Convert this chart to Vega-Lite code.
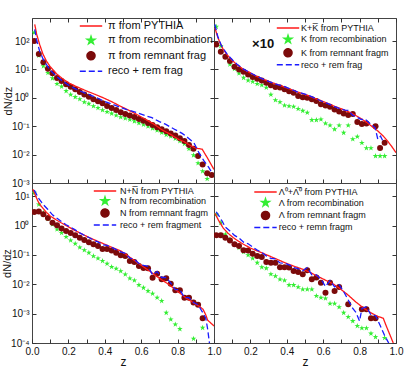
{
"$schema": "https://vega.github.io/schema/vega-lite/v6.json",
"background": "white",
"padding": {"left": 1, "top": 17, "right": 5, "bottom": 0},
"bounds": "flush",
"spacing": 0,
"columns": 2,
"config": {
  "view": {"stroke": "#444", "strokeWidth": 1},
  "font": "Liberation Sans",
  "axis": {"tickSize": -4, "tickColor": "#333", "tickWidth": 1, "domain": false, "grid": false, "labelFontSize": 10, "labelColor": "#111", "titleFontSize": 12, "titleFontWeight": "normal", "titleColor": "#111", "labelPadding": 7, "labelFlush": false, "labelFont": "Liberation Sans", "titleFont": "Liberation Sans"},
  "axisX": {"titlePadding": 0},
  "axisY": {"titlePadding": -2, "titleFontSize": 11},
  "legend": {"labelFont": "Liberation Sans", "labelColor": "#111"}
},
"data": {"name": "d"},
"datasets": {"d": [
{"p":"pi","s":"reco","z":0.0125,"v":200},{"p":"pi","s":"reco","z":0.0375,"v":31},{"p":"pi","s":"reco","z":0.0625,"v":13},{"p":"pi","s":"reco","z":0.0875,"v":7.6},{"p":"pi","s":"reco","z":0.1125,"v":4.9},{"p":"pi","s":"reco","z":0.1375,"v":3.1},{"p":"pi","s":"reco","z":0.1625,"v":2.5},{"p":"pi","s":"reco","z":0.1875,"v":1.74},{"p":"pi","s":"reco","z":0.2125,"v":1.3},{"p":"pi","s":"reco","z":0.2375,"v":1.07},{"p":"pi","s":"reco","z":0.2625,"v":0.9},{"p":"pi","s":"reco","z":0.2875,"v":0.71},{"p":"pi","s":"reco","z":0.3125,"v":0.62},{"p":"pi","s":"reco","z":0.3375,"v":0.51},{"p":"pi","s":"reco","z":0.3625,"v":0.44},{"p":"pi","s":"reco","z":0.3875,"v":0.37},{"p":"pi","s":"reco","z":0.4125,"v":0.32},{"p":"pi","s":"reco","z":0.4375,"v":0.28},{"p":"pi","s":"reco","z":0.4625,"v":0.24},{"p":"pi","s":"reco","z":0.4875,"v":0.21},{"p":"pi","s":"reco","z":0.5125,"v":0.19},{"p":"pi","s":"reco","z":0.5375,"v":0.17},{"p":"pi","s":"reco","z":0.5625,"v":0.15},{"p":"pi","s":"reco","z":0.5875,"v":0.13},{"p":"pi","s":"reco","z":0.6125,"v":0.115},{"p":"pi","s":"reco","z":0.6375,"v":0.1},{"p":"pi","s":"reco","z":0.6625,"v":0.085},{"p":"pi","s":"reco","z":0.6875,"v":0.072},{"p":"pi","s":"reco","z":0.7125,"v":0.06},{"p":"pi","s":"reco","z":0.7375,"v":0.05},{"p":"pi","s":"reco","z":0.7625,"v":0.044},{"p":"pi","s":"reco","z":0.7875,"v":0.037},{"p":"pi","s":"reco","z":0.8125,"v":0.03},{"p":"pi","s":"reco","z":0.8375,"v":0.024},{"p":"pi","s":"reco","z":0.8625,"v":0.016},{"p":"pi","s":"reco","z":0.8875,"v":0.0095},{"p":"pi","s":"reco","z":0.9125,"v":0.005},{"p":"pi","s":"reco","z":0.9375,"v":0.0026},{"p":"pi","s":"reco","z":0.9625,"v":0.0014},
{"p":"pi","s":"rem","z":0.0125,"v":100},{"p":"pi","s":"rem","z":0.0375,"v":35},{"p":"pi","s":"rem","z":0.0625,"v":18},{"p":"pi","s":"rem","z":0.0875,"v":10.5},{"p":"pi","s":"rem","z":0.1125,"v":7.3},{"p":"pi","s":"rem","z":0.1375,"v":5.0},{"p":"pi","s":"rem","z":0.1625,"v":3.9},{"p":"pi","s":"rem","z":0.1875,"v":3.0},{"p":"pi","s":"rem","z":0.2125,"v":2.45},{"p":"pi","s":"rem","z":0.2375,"v":2.0},{"p":"pi","s":"rem","z":0.2625,"v":1.6},{"p":"pi","s":"rem","z":0.2875,"v":1.3},{"p":"pi","s":"rem","z":0.3125,"v":1.1},{"p":"pi","s":"rem","z":0.3375,"v":0.9},{"p":"pi","s":"rem","z":0.3625,"v":0.76},{"p":"pi","s":"rem","z":0.3875,"v":0.65},{"p":"pi","s":"rem","z":0.4125,"v":0.52},{"p":"pi","s":"rem","z":0.4375,"v":0.44},{"p":"pi","s":"rem","z":0.4625,"v":0.37},{"p":"pi","s":"rem","z":0.4875,"v":0.31},{"p":"pi","s":"rem","z":0.5125,"v":0.27},{"p":"pi","s":"rem","z":0.5375,"v":0.24},{"p":"pi","s":"rem","z":0.5625,"v":0.21},{"p":"pi","s":"rem","z":0.5875,"v":0.18},{"p":"pi","s":"rem","z":0.6125,"v":0.155},{"p":"pi","s":"rem","z":0.6375,"v":0.13},{"p":"pi","s":"rem","z":0.6625,"v":0.11},{"p":"pi","s":"rem","z":0.6875,"v":0.092},{"p":"pi","s":"rem","z":0.7125,"v":0.078},{"p":"pi","s":"rem","z":0.7375,"v":0.066},{"p":"pi","s":"rem","z":0.7625,"v":0.056},{"p":"pi","s":"rem","z":0.7875,"v":0.047},{"p":"pi","s":"rem","z":0.8125,"v":0.038},{"p":"pi","s":"rem","z":0.8375,"v":0.03},{"p":"pi","s":"rem","z":0.8625,"v":0.022},{"p":"pi","s":"rem","z":0.8875,"v":0.016},{"p":"pi","s":"rem","z":0.9125,"v":0.009},{"p":"pi","s":"rem","z":0.9375,"v":0.0045},{"p":"pi","s":"rem","z":0.9625,"v":0.0022},{"p":"pi","s":"rem","z":0.9875,"v":0.0019},
{"p":"pi","s":"py","z":0.015,"v":390},{"p":"pi","s":"py","z":0.025,"v":180},{"p":"pi","s":"py","z":0.042,"v":76},{"p":"pi","s":"py","z":0.06,"v":35},{"p":"pi","s":"py","z":0.079,"v":20},{"p":"pi","s":"py","z":0.1,"v":12.5},{"p":"pi","s":"py","z":0.134,"v":7.1},{"p":"pi","s":"py","z":0.17,"v":4.6},{"p":"pi","s":"py","z":0.208,"v":3.2},{"p":"pi","s":"py","z":0.25,"v":2.4},{"p":"pi","s":"py","z":0.3,"v":1.74},{"p":"pi","s":"py","z":0.35,"v":1.3},{"p":"pi","s":"py","z":0.392,"v":1.0},{"p":"pi","s":"py","z":0.44,"v":0.72},{"p":"pi","s":"py","z":0.485,"v":0.51},{"p":"pi","s":"py","z":0.53,"v":0.37},{"p":"pi","s":"py","z":0.576,"v":0.26},{"p":"pi","s":"py","z":0.62,"v":0.18},{"p":"pi","s":"py","z":0.669,"v":0.12},{"p":"pi","s":"py","z":0.714,"v":0.075},{"p":"pi","s":"py","z":0.76,"v":0.052},{"p":"pi","s":"py","z":0.807,"v":0.034},{"p":"pi","s":"py","z":0.834,"v":0.029},{"p":"pi","s":"py","z":0.87,"v":0.021},{"p":"pi","s":"py","z":0.899,"v":0.017},{"p":"pi","s":"py","z":0.935,"v":0.0155},{"p":"pi","s":"py","z":0.963,"v":0.0078},{"p":"pi","s":"py","z":1.0,"v":0.003},
{"p":"pi","s":"sum","z":0.015,"v":260},{"p":"pi","s":"sum","z":0.025,"v":110},{"p":"pi","s":"sum","z":0.042,"v":44},{"p":"pi","s":"sum","z":0.06,"v":24},{"p":"pi","s":"sum","z":0.079,"v":15},{"p":"pi","s":"sum","z":0.1,"v":9.5},{"p":"pi","s":"sum","z":0.134,"v":5.8},{"p":"pi","s":"sum","z":0.17,"v":3.8},{"p":"pi","s":"sum","z":0.208,"v":2.6},{"p":"pi","s":"sum","z":0.25,"v":1.9},{"p":"pi","s":"sum","z":0.3,"v":1.4},{"p":"pi","s":"sum","z":0.35,"v":1.05},{"p":"pi","s":"sum","z":0.392,"v":0.78},{"p":"pi","s":"sum","z":0.44,"v":0.6},{"p":"pi","s":"sum","z":0.485,"v":0.46},{"p":"pi","s":"sum","z":0.53,"v":0.37},{"p":"pi","s":"sum","z":0.576,"v":0.3},{"p":"pi","s":"sum","z":0.62,"v":0.24},{"p":"pi","s":"sum","z":0.659,"v":0.2},{"p":"pi","s":"sum","z":0.7,"v":0.145},{"p":"pi","s":"sum","z":0.733,"v":0.118},{"p":"pi","s":"sum","z":0.78,"v":0.08},{"p":"pi","s":"sum","z":0.825,"v":0.056},{"p":"pi","s":"sum","z":0.86,"v":0.038},{"p":"pi","s":"sum","z":0.89,"v":0.026},{"p":"pi","s":"sum","z":0.917,"v":0.0117},{"p":"pi","s":"sum","z":0.945,"v":0.006},{"p":"pi","s":"sum","z":0.972,"v":0.0035},{"p":"pi","s":"sum","z":0.99,"v":0.0022},
{"p":"K","s":"reco","z":0.0125,"v":320},{"p":"K","s":"reco","z":0.0375,"v":67},{"p":"K","s":"reco","z":0.0625,"v":30},{"p":"K","s":"reco","z":0.0875,"v":15},{"p":"K","s":"reco","z":0.1125,"v":10.5},{"p":"K","s":"reco","z":0.1375,"v":7.3},{"p":"K","s":"reco","z":0.1625,"v":5.1},{"p":"K","s":"reco","z":0.1875,"v":4.1},{"p":"K","s":"reco","z":0.2125,"v":3.7},{"p":"K","s":"reco","z":0.2375,"v":3.1},{"p":"K","s":"reco","z":0.2625,"v":2.8},{"p":"K","s":"reco","z":0.2875,"v":2.3},{"p":"K","s":"reco","z":0.3125,"v":1.3},{"p":"K","s":"reco","z":0.3375,"v":0.83},{"p":"K","s":"reco","z":0.3625,"v":0.71},{"p":"K","s":"reco","z":0.3875,"v":0.54},{"p":"K","s":"reco","z":0.4125,"v":0.51},{"p":"K","s":"reco","z":0.4375,"v":0.49},{"p":"K","s":"reco","z":0.4625,"v":0.41},{"p":"K","s":"reco","z":0.4875,"v":0.35},{"p":"K","s":"reco","z":0.5125,"v":0.3},{"p":"K","s":"reco","z":0.5375,"v":0.166},{"p":"K","s":"reco","z":0.5625,"v":0.166},{"p":"K","s":"reco","z":0.5875,"v":0.175},{"p":"K","s":"reco","z":0.6125,"v":0.126},{"p":"K","s":"reco","z":0.6375,"v":0.107},{"p":"K","s":"reco","z":0.6625,"v":0.078},{"p":"K","s":"reco","z":0.6875,"v":0.107},{"p":"K","s":"reco","z":0.7125,"v":0.059},{"p":"K","s":"reco","z":0.7375,"v":0.107},{"p":"K","s":"reco","z":0.7625,"v":0.035},{"p":"K","s":"reco","z":0.7875,"v":0.043},{"p":"K","s":"reco","z":0.8125,"v":0.026},{"p":"K","s":"reco","z":0.8375,"v":0.017},{"p":"K","s":"reco","z":0.8625,"v":0.017},{"p":"K","s":"reco","z":0.8875,"v":0.0089},{"p":"K","s":"reco","z":0.9125,"v":0.0089},{"p":"K","s":"reco","z":0.9375,"v":0.0089},
{"p":"K","s":"rem","z":0.0125,"v":76},{"p":"K","s":"rem","z":0.0375,"v":42},{"p":"K","s":"rem","z":0.0625,"v":28},{"p":"K","s":"rem","z":0.0875,"v":20},{"p":"K","s":"rem","z":0.1125,"v":12.5},{"p":"K","s":"rem","z":0.1375,"v":10},{"p":"K","s":"rem","z":0.1625,"v":8.3},{"p":"K","s":"rem","z":0.1875,"v":6.7},{"p":"K","s":"rem","z":0.2125,"v":5.4},{"p":"K","s":"rem","z":0.2375,"v":4.7},{"p":"K","s":"rem","z":0.2625,"v":4.1},{"p":"K","s":"rem","z":0.2875,"v":3.4},{"p":"K","s":"rem","z":0.3125,"v":2.8},{"p":"K","s":"rem","z":0.3375,"v":2.4},{"p":"K","s":"rem","z":0.3625,"v":2.3},{"p":"K","s":"rem","z":0.3875,"v":2.0},{"p":"K","s":"rem","z":0.4125,"v":1.7},{"p":"K","s":"rem","z":0.4375,"v":1.5},{"p":"K","s":"rem","z":0.4625,"v":1.15},{"p":"K","s":"rem","z":0.4875,"v":1.05},{"p":"K","s":"rem","z":0.5125,"v":1.0},{"p":"K","s":"rem","z":0.5375,"v":0.89},{"p":"K","s":"rem","z":0.5625,"v":0.77},{"p":"K","s":"rem","z":0.5875,"v":0.6},{"p":"K","s":"rem","z":0.6125,"v":0.54},{"p":"K","s":"rem","z":0.6375,"v":0.49},{"p":"K","s":"rem","z":0.6625,"v":0.39},{"p":"K","s":"rem","z":0.6875,"v":0.33},{"p":"K","s":"rem","z":0.7125,"v":0.28},{"p":"K","s":"rem","z":0.7375,"v":0.25},{"p":"K","s":"rem","z":0.7625,"v":0.27},{"p":"K","s":"rem","z":0.7875,"v":0.14},{"p":"K","s":"rem","z":0.8125,"v":0.12},{"p":"K","s":"rem","z":0.8375,"v":0.125},{"p":"K","s":"rem","z":0.8875,"v":0.1},{"p":"K","s":"rem","z":0.9125,"v":0.017},{"p":"K","s":"rem","z":0.9375,"v":0.026},
{"p":"K","s":"py","z":0.005,"v":295},{"p":"K","s":"py","z":0.02,"v":140},{"p":"K","s":"py","z":0.033,"v":87},{"p":"K","s":"py","z":0.05,"v":52},{"p":"K","s":"py","z":0.07,"v":34},{"p":"K","s":"py","z":0.095,"v":22},{"p":"K","s":"py","z":0.125,"v":15},{"p":"K","s":"py","z":0.16,"v":10.2},{"p":"K","s":"py","z":0.199,"v":7.6},{"p":"K","s":"py","z":0.235,"v":5.7},{"p":"K","s":"py","z":0.272,"v":4.5},{"p":"K","s":"py","z":0.31,"v":3.6},{"p":"K","s":"py","z":0.346,"v":3.0},{"p":"K","s":"py","z":0.38,"v":2.5},{"p":"K","s":"py","z":0.42,"v":2.0},{"p":"K","s":"py","z":0.46,"v":1.6},{"p":"K","s":"py","z":0.503,"v":1.3},{"p":"K","s":"py","z":0.535,"v":1.08},{"p":"K","s":"py","z":0.567,"v":0.89},{"p":"K","s":"py","z":0.61,"v":0.7},{"p":"K","s":"py","z":0.66,"v":0.51},{"p":"K","s":"py","z":0.705,"v":0.4},{"p":"K","s":"py","z":0.75,"v":0.3},{"p":"K","s":"py","z":0.8,"v":0.2},{"p":"K","s":"py","z":0.844,"v":0.13},{"p":"K","s":"py","z":0.875,"v":0.09},{"p":"K","s":"py","z":0.9,"v":0.068},{"p":"K","s":"py","z":0.93,"v":0.045},{"p":"K","s":"py","z":0.954,"v":0.03},{"p":"K","s":"py","z":0.98,"v":0.018},{"p":"K","s":"py","z":1.0,"v":0.0117},
{"p":"K","s":"sum","z":0.005,"v":390},{"p":"K","s":"sum","z":0.02,"v":150},{"p":"K","s":"sum","z":0.04,"v":70},{"p":"K","s":"sum","z":0.07,"v":36},{"p":"K","s":"sum","z":0.1,"v":22},{"p":"K","s":"sum","z":0.125,"v":15.5},{"p":"K","s":"sum","z":0.16,"v":10.5},{"p":"K","s":"sum","z":0.2,"v":7.6},{"p":"K","s":"sum","z":0.24,"v":5.6},{"p":"K","s":"sum","z":0.27,"v":4.6},{"p":"K","s":"sum","z":0.3,"v":3.8},{"p":"K","s":"sum","z":0.35,"v":2.9},{"p":"K","s":"sum","z":0.38,"v":2.6},{"p":"K","s":"sum","z":0.42,"v":2.05},{"p":"K","s":"sum","z":0.46,"v":1.6},{"p":"K","s":"sum","z":0.5,"v":1.35},{"p":"K","s":"sum","z":0.53,"v":1.15},{"p":"K","s":"sum","z":0.567,"v":0.9},{"p":"K","s":"sum","z":0.6,"v":0.72},{"p":"K","s":"sum","z":0.62,"v":0.65},{"p":"K","s":"sum","z":0.66,"v":0.5},{"p":"K","s":"sum","z":0.69,"v":0.42},{"p":"K","s":"sum","z":0.72,"v":0.37},{"p":"K","s":"sum","z":0.74,"v":0.36},{"p":"K","s":"sum","z":0.76,"v":0.25},{"p":"K","s":"sum","z":0.79,"v":0.2},{"p":"K","s":"sum","z":0.81,"v":0.17},{"p":"K","s":"sum","z":0.83,"v":0.18},{"p":"K","s":"sum","z":0.86,"v":0.12},{"p":"K","s":"sum","z":0.885,"v":0.09},{"p":"K","s":"sum","z":0.9,"v":0.035},{"p":"K","s":"sum","z":0.915,"v":0.045},{"p":"K","s":"sum","z":0.93,"v":0.028},
{"p":"N","s":"reco","z":0.0125,"v":13},{"p":"N","s":"reco","z":0.0375,"v":5.2},{"p":"N","s":"reco","z":0.0625,"v":2.7},{"p":"N","s":"reco","z":0.0875,"v":1.7},{"p":"N","s":"reco","z":0.1125,"v":1.1},{"p":"N","s":"reco","z":0.1375,"v":0.74},{"p":"N","s":"reco","z":0.1625,"v":0.56},{"p":"N","s":"reco","z":0.1875,"v":0.41},{"p":"N","s":"reco","z":0.2125,"v":0.31},{"p":"N","s":"reco","z":0.2375,"v":0.24},{"p":"N","s":"reco","z":0.2625,"v":0.18},{"p":"N","s":"reco","z":0.2875,"v":0.145},{"p":"N","s":"reco","z":0.3125,"v":0.118},{"p":"N","s":"reco","z":0.3375,"v":0.091},{"p":"N","s":"reco","z":0.3625,"v":0.076},{"p":"N","s":"reco","z":0.3875,"v":0.062},{"p":"N","s":"reco","z":0.4125,"v":0.05},{"p":"N","s":"reco","z":0.4375,"v":0.039},{"p":"N","s":"reco","z":0.4625,"v":0.034},{"p":"N","s":"reco","z":0.4875,"v":0.028},{"p":"N","s":"reco","z":0.5125,"v":0.0217},{"p":"N","s":"reco","z":0.5375,"v":0.0159},{"p":"N","s":"reco","z":0.5625,"v":0.0135},{"p":"N","s":"reco","z":0.5875,"v":0.0094},{"p":"N","s":"reco","z":0.6125,"v":0.0076},{"p":"N","s":"reco","z":0.6375,"v":0.0059},{"p":"N","s":"reco","z":0.6625,"v":0.0048},{"p":"N","s":"reco","z":0.6875,"v":0.0035},{"p":"N","s":"reco","z":0.7125,"v":0.0027},{"p":"N","s":"reco","z":0.7375,"v":0.00107},{"p":"N","s":"reco","z":0.7625,"v":0.00064},{"p":"N","s":"reco","z":0.7875,"v":0.00043},{"p":"N","s":"reco","z":0.8125,"v":0.0003},{"p":"N","s":"reco","z":0.8875,"v":0.00014},{"p":"N","s":"reco","z":0.9375,"v":0.00033},
{"p":"N","s":"rem","z":0.0125,"v":2.9},{"p":"N","s":"rem","z":0.0375,"v":3.0},{"p":"N","s":"rem","z":0.0625,"v":2.4},{"p":"N","s":"rem","z":0.0875,"v":1.8},{"p":"N","s":"rem","z":0.1125,"v":1.23},{"p":"N","s":"rem","z":0.1375,"v":1.03},{"p":"N","s":"rem","z":0.1625,"v":0.79},{"p":"N","s":"rem","z":0.1875,"v":0.65},{"p":"N","s":"rem","z":0.2125,"v":0.56},{"p":"N","s":"rem","z":0.2375,"v":0.47},{"p":"N","s":"rem","z":0.2625,"v":0.38},{"p":"N","s":"rem","z":0.2875,"v":0.32},{"p":"N","s":"rem","z":0.3125,"v":0.27},{"p":"N","s":"rem","z":0.3375,"v":0.23},{"p":"N","s":"rem","z":0.3625,"v":0.2},{"p":"N","s":"rem","z":0.3875,"v":0.158},{"p":"N","s":"rem","z":0.4125,"v":0.16},{"p":"N","s":"rem","z":0.4375,"v":0.142},{"p":"N","s":"rem","z":0.4625,"v":0.118},{"p":"N","s":"rem","z":0.4875,"v":0.098},{"p":"N","s":"rem","z":0.5125,"v":0.091},{"p":"N","s":"rem","z":0.5375,"v":0.062},{"p":"N","s":"rem","z":0.5625,"v":0.057},{"p":"N","s":"rem","z":0.5875,"v":0.042},{"p":"N","s":"rem","z":0.6125,"v":0.036},{"p":"N","s":"rem","z":0.6375,"v":0.035},{"p":"N","s":"rem","z":0.6625,"v":0.0166},{"p":"N","s":"rem","z":0.6875,"v":0.023},{"p":"N","s":"rem","z":0.7125,"v":0.0147},{"p":"N","s":"rem","z":0.7375,"v":0.016},{"p":"N","s":"rem","z":0.7625,"v":0.0104},{"p":"N","s":"rem","z":0.7875,"v":0.0062},{"p":"N","s":"rem","z":0.8125,"v":0.0062},{"p":"N","s":"rem","z":0.8375,"v":0.0035},{"p":"N","s":"rem","z":0.8625,"v":0.0035},{"p":"N","s":"rem","z":0.8875,"v":0.0024},{"p":"N","s":"rem","z":0.9125,"v":0.002},{"p":"N","s":"rem","z":0.9375,"v":0.0007},
{"p":"N","s":"py","z":0.005,"v":17},{"p":"N","s":"py","z":0.02,"v":10},{"p":"N","s":"py","z":0.035,"v":6.3},{"p":"N","s":"py","z":0.05,"v":4.6},{"p":"N","s":"py","z":0.075,"v":3.0},{"p":"N","s":"py","z":0.1,"v":2.1},{"p":"N","s":"py","z":0.13,"v":1.6},{"p":"N","s":"py","z":0.16,"v":1.24},{"p":"N","s":"py","z":0.2,"v":0.9},{"p":"N","s":"py","z":0.235,"v":0.68},{"p":"N","s":"py","z":0.27,"v":0.53},{"p":"N","s":"py","z":0.31,"v":0.4},{"p":"N","s":"py","z":0.345,"v":0.32},{"p":"N","s":"py","z":0.38,"v":0.26},{"p":"N","s":"py","z":0.43,"v":0.19},{"p":"N","s":"py","z":0.49,"v":0.134},{"p":"N","s":"py","z":0.53,"v":0.09},{"p":"N","s":"py","z":0.567,"v":0.062},{"p":"N","s":"py","z":0.61,"v":0.04},{"p":"N","s":"py","z":0.659,"v":0.0246},{"p":"N","s":"py","z":0.7,"v":0.016},{"p":"N","s":"py","z":0.751,"v":0.0099},{"p":"N","s":"py","z":0.8,"v":0.0058},{"p":"N","s":"py","z":0.844,"v":0.0035},{"p":"N","s":"py","z":0.88,"v":0.0025},{"p":"N","s":"py","z":0.917,"v":0.0018},{"p":"N","s":"py","z":0.94,"v":0.0014},{"p":"N","s":"py","z":0.955,"v":0.0009},{"p":"N","s":"py","z":0.965,"v":0.0006},{"p":"N","s":"py","z":1.0,"v":0.00038},
{"p":"N","s":"sum","z":0.0125,"v":16},{"p":"N","s":"sum","z":0.0375,"v":8.2},{"p":"N","s":"sum","z":0.0625,"v":5.1},{"p":"N","s":"sum","z":0.0875,"v":3.5},{"p":"N","s":"sum","z":0.1125,"v":2.3},{"p":"N","s":"sum","z":0.1375,"v":1.77},{"p":"N","s":"sum","z":0.1625,"v":1.35},{"p":"N","s":"sum","z":0.1875,"v":1.06},{"p":"N","s":"sum","z":0.2125,"v":0.87},{"p":"N","s":"sum","z":0.2375,"v":0.71},{"p":"N","s":"sum","z":0.2625,"v":0.56},{"p":"N","s":"sum","z":0.2875,"v":0.465},{"p":"N","s":"sum","z":0.3125,"v":0.39},{"p":"N","s":"sum","z":0.3375,"v":0.32},{"p":"N","s":"sum","z":0.3625,"v":0.276},{"p":"N","s":"sum","z":0.3875,"v":0.22},{"p":"N","s":"sum","z":0.4125,"v":0.21},{"p":"N","s":"sum","z":0.4375,"v":0.18},{"p":"N","s":"sum","z":0.4625,"v":0.152},{"p":"N","s":"sum","z":0.4875,"v":0.126},{"p":"N","s":"sum","z":0.5125,"v":0.113},{"p":"N","s":"sum","z":0.5375,"v":0.078},{"p":"N","s":"sum","z":0.5625,"v":0.07},{"p":"N","s":"sum","z":0.5875,"v":0.051},{"p":"N","s":"sum","z":0.6125,"v":0.044},{"p":"N","s":"sum","z":0.6375,"v":0.041},{"p":"N","s":"sum","z":0.6625,"v":0.021},{"p":"N","s":"sum","z":0.6875,"v":0.027},{"p":"N","s":"sum","z":0.7125,"v":0.017},{"p":"N","s":"sum","z":0.7375,"v":0.017},{"p":"N","s":"sum","z":0.7625,"v":0.011},{"p":"N","s":"sum","z":0.7875,"v":0.0066},{"p":"N","s":"sum","z":0.8125,"v":0.0065},{"p":"N","s":"sum","z":0.8375,"v":0.0035},{"p":"N","s":"sum","z":0.8625,"v":0.0035},{"p":"N","s":"sum","z":0.8875,"v":0.0024},{"p":"N","s":"sum","z":0.9125,"v":0.002},{"p":"N","s":"sum","z":0.9375,"v":0.0011},{"p":"N","s":"sum","z":0.955,"v":0.0007},{"p":"N","s":"sum","z":0.965,"v":0.0003},{"p":"N","s":"sum","z":0.975,"v":0.0001},
{"p":"L","s":"reco","z":0.0125,"v":2.4},{"p":"L","s":"reco","z":0.0375,"v":1.24},{"p":"L","s":"reco","z":0.0625,"v":0.5},{"p":"L","s":"reco","z":0.0875,"v":0.34},{"p":"L","s":"reco","z":0.1125,"v":0.23},{"p":"L","s":"reco","z":0.1375,"v":0.175},{"p":"L","s":"reco","z":0.1625,"v":0.127},{"p":"L","s":"reco","z":0.1875,"v":0.098},{"p":"L","s":"reco","z":0.2125,"v":0.076},{"p":"L","s":"reco","z":0.2375,"v":0.054},{"p":"L","s":"reco","z":0.2625,"v":0.038},{"p":"L","s":"reco","z":0.2875,"v":0.035},{"p":"L","s":"reco","z":0.3125,"v":0.022},{"p":"L","s":"reco","z":0.3375,"v":0.019},{"p":"L","s":"reco","z":0.3625,"v":0.0147},{"p":"L","s":"reco","z":0.3875,"v":0.0135},{"p":"L","s":"reco","z":0.4125,"v":0.0094},{"p":"L","s":"reco","z":0.4375,"v":0.0094},{"p":"L","s":"reco","z":0.4625,"v":0.008},{"p":"L","s":"reco","z":0.4875,"v":0.0067},{"p":"L","s":"reco","z":0.5125,"v":0.0067},{"p":"L","s":"reco","z":0.5375,"v":0.0067},{"p":"L","s":"reco","z":0.5625,"v":0.004},{"p":"L","s":"reco","z":0.5875,"v":0.0035},{"p":"L","s":"reco","z":0.6125,"v":0.0033},{"p":"L","s":"reco","z":0.6375,"v":0.0022},{"p":"L","s":"reco","z":0.6625,"v":0.0022},{"p":"L","s":"reco","z":0.6875,"v":0.00167},{"p":"L","s":"reco","z":0.7125,"v":0.00107},{"p":"L","s":"reco","z":0.7375,"v":0.00077},{"p":"L","s":"reco","z":0.7625,"v":0.00056},{"p":"L","s":"reco","z":0.7875,"v":0.00038},{"p":"L","s":"reco","z":0.8125,"v":0.00032},{"p":"L","s":"reco","z":0.8375,"v":0.00032},{"p":"L","s":"reco","z":0.8625,"v":0.00021},{"p":"L","s":"reco","z":0.8875,"v":0.00016},{"p":"L","s":"reco","z":0.9375,"v":0.00015},
{"p":"L","s":"rem","z":0.0125,"v":0.47},{"p":"L","s":"rem","z":0.0375,"v":0.47},{"p":"L","s":"rem","z":0.0625,"v":0.38},{"p":"L","s":"rem","z":0.0875,"v":0.31},{"p":"L","s":"rem","z":0.1125,"v":0.23},{"p":"L","s":"rem","z":0.1375,"v":0.2},{"p":"L","s":"rem","z":0.1625,"v":0.145},{"p":"L","s":"rem","z":0.1875,"v":0.142},{"p":"L","s":"rem","z":0.2125,"v":0.11},{"p":"L","s":"rem","z":0.2375,"v":0.091},{"p":"L","s":"rem","z":0.2625,"v":0.084},{"p":"L","s":"rem","z":0.2875,"v":0.057},{"p":"L","s":"rem","z":0.3125,"v":0.054},{"p":"L","s":"rem","z":0.3375,"v":0.054},{"p":"L","s":"rem","z":0.3625,"v":0.038},{"p":"L","s":"rem","z":0.3875,"v":0.038},{"p":"L","s":"rem","z":0.4125,"v":0.037},{"p":"L","s":"rem","z":0.4375,"v":0.028},{"p":"L","s":"rem","z":0.4625,"v":0.026},{"p":"L","s":"rem","z":0.4875,"v":0.022},{"p":"L","s":"rem","z":0.5125,"v":0.03},{"p":"L","s":"rem","z":0.5375,"v":0.0147},{"p":"L","s":"rem","z":0.5625,"v":0.017},{"p":"L","s":"rem","z":0.5875,"v":0.0112},{"p":"L","s":"rem","z":0.6125,"v":0.0051},{"p":"L","s":"rem","z":0.6375,"v":0.0112},{"p":"L","s":"rem","z":0.6625,"v":0.0059},{"p":"L","s":"rem","z":0.6875,"v":0.008},{"p":"L","s":"rem","z":0.7375,"v":0.0021},{"p":"L","s":"rem","z":0.8125,"v":0.0014},{"p":"L","s":"rem","z":0.8375,"v":0.0014},{"p":"L","s":"rem","z":0.8625,"v":0.0007},{"p":"L","s":"rem","z":0.8875,"v":0.0007},
{"p":"L","s":"py","z":0.005,"v":2.6},{"p":"L","s":"py","z":0.025,"v":1.5},{"p":"L","s":"py","z":0.05,"v":0.83},{"p":"L","s":"py","z":0.075,"v":0.56},{"p":"L","s":"py","z":0.107,"v":0.38},{"p":"L","s":"py","z":0.135,"v":0.29},{"p":"L","s":"py","z":0.162,"v":0.23},{"p":"L","s":"py","z":0.2,"v":0.17},{"p":"L","s":"py","z":0.254,"v":0.124},{"p":"L","s":"py","z":0.3,"v":0.094},{"p":"L","s":"py","z":0.346,"v":0.071},{"p":"L","s":"py","z":0.39,"v":0.054},{"p":"L","s":"py","z":0.438,"v":0.0414},{"p":"L","s":"py","z":0.49,"v":0.032},{"p":"L","s":"py","z":0.53,"v":0.025},{"p":"L","s":"py","z":0.567,"v":0.019},{"p":"L","s":"py","z":0.61,"v":0.014},{"p":"L","s":"py","z":0.659,"v":0.0099},{"p":"L","s":"py","z":0.7,"v":0.0065},{"p":"L","s":"py","z":0.733,"v":0.0045},{"p":"L","s":"py","z":0.779,"v":0.0025},{"p":"L","s":"py","z":0.825,"v":0.0015},{"p":"L","s":"py","z":0.862,"v":0.00107},{"p":"L","s":"py","z":0.9,"v":0.0008},{"p":"L","s":"py","z":0.93,"v":0.0007},{"p":"L","s":"py","z":0.945,"v":0.0004},{"p":"L","s":"py","z":0.965,"v":0.0002},{"p":"L","s":"py","z":0.985,"v":0.0001},
{"p":"L","s":"sum","z":0.0125,"v":2.9},{"p":"L","s":"sum","z":0.0375,"v":1.7},{"p":"L","s":"sum","z":0.0625,"v":0.88},{"p":"L","s":"sum","z":0.0875,"v":0.65},{"p":"L","s":"sum","z":0.1125,"v":0.46},{"p":"L","s":"sum","z":0.1375,"v":0.375},{"p":"L","s":"sum","z":0.1625,"v":0.27},{"p":"L","s":"sum","z":0.1875,"v":0.24},{"p":"L","s":"sum","z":0.2125,"v":0.186},{"p":"L","s":"sum","z":0.2375,"v":0.145},{"p":"L","s":"sum","z":0.2625,"v":0.122},{"p":"L","s":"sum","z":0.2875,"v":0.092},{"p":"L","s":"sum","z":0.3125,"v":0.076},{"p":"L","s":"sum","z":0.3375,"v":0.073},{"p":"L","s":"sum","z":0.3625,"v":0.053},{"p":"L","s":"sum","z":0.3875,"v":0.052},{"p":"L","s":"sum","z":0.4125,"v":0.046},{"p":"L","s":"sum","z":0.4375,"v":0.037},{"p":"L","s":"sum","z":0.4625,"v":0.034},{"p":"L","s":"sum","z":0.4875,"v":0.029},{"p":"L","s":"sum","z":0.5125,"v":0.037},{"p":"L","s":"sum","z":0.5375,"v":0.021},{"p":"L","s":"sum","z":0.5625,"v":0.021},{"p":"L","s":"sum","z":0.5875,"v":0.015},{"p":"L","s":"sum","z":0.6125,"v":0.0084},{"p":"L","s":"sum","z":0.6375,"v":0.0134},{"p":"L","s":"sum","z":0.6625,"v":0.0081},{"p":"L","s":"sum","z":0.6875,"v":0.0097},{"p":"L","s":"sum","z":0.7125,"v":0.0056},{"p":"L","s":"sum","z":0.7375,"v":0.0029},{"p":"L","s":"sum","z":0.7625,"v":0.0015},{"p":"L","s":"sum","z":0.78,"v":0.0011},{"p":"L","s":"sum","z":0.8,"v":0.00056},{"p":"L","s":"sum","z":0.8125,"v":0.0015},{"p":"L","s":"sum","z":0.8375,"v":0.0017},{"p":"L","s":"sum","z":0.8625,"v":0.0009},{"p":"L","s":"sum","z":0.8875,"v":0.00086},{"p":"L","s":"sum","z":0.9125,"v":0.0004},{"p":"L","s":"sum","z":0.9375,"v":0.00018},{"p":"L","s":"sum","z":0.96,"v":0.0001}
]},
"resolve": {
  "scale": {"x": "independent", "y": "independent", "color": "independent", "shape": "independent", "strokeDash": "independent"},
  "axis": {"x": "independent", "y": "independent"},
  "legend": {"color": "independent", "shape": "independent", "strokeDash": "independent"}
},
"concat": [
{
  "width": 182, "height": 165,
  "resolve": {"axis": {"x": "independent", "y": "independent"}},
  "layer": [
    {"transform": [{"filter": "datum.p=='pi' && (datum.s=='reco' || datum.s=='rem')"}],
     "mark": {"type": "point", "filled": true, "size": 36, "opacity": 1, "strokeWidth": 0, "clip": true},
     "encoding": {
       "x": {"field": "z", "type": "quantitative", "scale": {"domain": [0, 1], "nice": false}, "axis": {"orient": "bottom", "values": [0,0.1,0.2,0.3,0.4,0.5,0.6,0.7,0.8,0.9,1], "labels": false, "title": null}},
       "y": {"field": "v", "type": "quantitative", "scale": {"type": "log", "domain": [0.001, 650], "nice": false}, "axis": {"orient": "left", "values": [0.001,0.01,0.1,1,10,100], "labelOverlap": false, "labelExpr": "datum.value > 50 ? '10²' : datum.value > 5 ? '10¹' : datum.value > 0.5 ? '10⁰' : datum.value > 0.05 ? '10⁻¹' : datum.value > 0.005 ? '10⁻²' : datum.value > 0.0005 ? '10⁻³' : '10⁻⁴'", "title": "dN/dz"}},
       "color": {"field": "s", "type": "nominal", "scale": {"domain": ["py","reco","rem","sum"], "range": ["#ff1a1a","#33ee33","#7b0a0a","#1a1aff"]},
         "legend": {"orient": "none", "legendX": 53.5, "legendY": 2.5, "title": null, "padding": 0, "labelFontSize": 11, "labelOffset": 11.5, "rowPadding": 1.4, "symbolSize": 64,
           "labelExpr": "datum.value=='py' ? 'π from PYTHIA' : datum.value=='reco' ? 'π from recombination' : datum.value=='rem' ? 'π from remnant frag' : 'reco + rem frag'",
           "encode": {"symbols": {"update": {
             "shape": {"signal": "datum.value=='reco' ? 'M0,-1L0.2245,-0.309L0.9511,-0.309L0.3633,0.118L0.5878,0.809L0,0.382L-0.5878,0.809L-0.3633,0.118L-0.9511,-0.309L-0.2245,-0.309Z' : datum.value=='rem' ? 'circle' : 'M-2.8,0H2.8'"},
             "fill": {"signal": "datum.value=='reco' ? '#33ee33' : datum.value=='rem' ? '#7b0a0a' : 'transparent'"},
             "stroke": {"signal": "datum.value=='py' ? '#ff1a1a' : datum.value=='sum' ? '#1a1aff' : 'transparent'"},
             "strokeDash": {"signal": "datum.value=='sum' ? [6,3] : [1,0]"},
             "strokeWidth": {"value": 1.5},
             "opacity": {"value": 1}}}}}},
       "shape": {"field": "s", "type": "nominal", "scale": {"domain": ["py","reco","rem","sum"], "range": ["M-2.8,0H2.8","M0,-1L0.2245,-0.309L0.9511,-0.309L0.3633,0.118L0.5878,0.809L0,0.382L-0.5878,0.809L-0.3633,0.118L-0.9511,-0.309L-0.2245,-0.309Z","circle","M-2.8,0H2.8"]}, "legend": null}
     }},
    {"transform": [{"filter": "datum.p=='pi' && (datum.s=='py' || datum.s=='sum')"}],
     "mark": {"type": "line", "strokeWidth": 1.3, "clip": true},
     "encoding": {
       "x": {"field": "z", "type": "quantitative", "axis": {"orient": "top", "values": [0,0.1,0.2,0.3,0.4,0.5,0.6,0.7,0.8,0.9,1], "labels": false, "title": null}},
       "y": {"field": "v", "type": "quantitative", "axis": {"orient": "right", "values": [0.001,0.01,0.1,1,10,100], "labels": false, "title": null}},
       "color": {"field": "s", "type": "nominal"},
       "strokeDash": {"field": "s", "type": "nominal", "scale": {"domain": ["py","reco","rem","sum"], "range": [[1,0],[1,0],[1,0],[6,3]]}, "legend": null}
     }}
  ]
},
{
  "width": 182, "height": 165,
  "resolve": {"axis": {"x": "independent", "y": "independent"}},
  "layer": [
    {"transform": [{"filter": "datum.p=='K' && (datum.s=='reco' || datum.s=='rem')"}],
     "mark": {"type": "point", "filled": true, "size": 36, "opacity": 1, "strokeWidth": 0, "clip": true},
     "encoding": {
       "x": {"field": "z", "type": "quantitative", "scale": {"domain": [0, 1], "nice": false}, "axis": {"orient": "bottom", "values": [0,0.1,0.2,0.3,0.4,0.5,0.6,0.7,0.8,0.9,1], "labels": false, "title": null}},
       "y": {"field": "v", "type": "quantitative", "scale": {"type": "log", "domain": [0.001, 650], "nice": false}, "axis": {"orient": "left", "values": [0.001,0.01,0.1,1,10,100], "labels": false, "title": null}},
       "color": {"field": "s", "type": "nominal", "scale": {"domain": ["py","reco","rem","sum"], "range": ["#ff1a1a","#33ee33","#7b0a0a","#1a1aff"]},
         "legend": {"orient": "none", "legendX": 69, "legendY": 5, "title": null, "padding": 0, "labelFontSize": 9, "labelOffset": 8, "rowPadding": -0.6, "symbolSize": 64,
           "labelExpr": "datum.value=='py' ? 'K+K̅ from PYTHIA' : datum.value=='reco' ? 'K from recombination' : datum.value=='rem' ? 'K from remnant fragm' : 'reco + rem frag'",
           "encode": {"symbols": {"update": {
             "shape": {"signal": "datum.value=='reco' ? 'M0,-1L0.2245,-0.309L0.9511,-0.309L0.3633,0.118L0.5878,0.809L0,0.382L-0.5878,0.809L-0.3633,0.118L-0.9511,-0.309L-0.2245,-0.309Z' : datum.value=='rem' ? 'circle' : 'M-2.8,0H2.8'"},
             "fill": {"signal": "datum.value=='reco' ? '#33ee33' : datum.value=='rem' ? '#7b0a0a' : 'transparent'"},
             "stroke": {"signal": "datum.value=='py' ? '#ff1a1a' : datum.value=='sum' ? '#1a1aff' : 'transparent'"},
             "strokeDash": {"signal": "datum.value=='sum' ? [6,3] : [1,0]"},
             "strokeWidth": {"value": 1.5},
             "opacity": {"value": 1}}}}}},
       "shape": {"field": "s", "type": "nominal", "scale": {"domain": ["py","reco","rem","sum"], "range": ["M-2.8,0H2.8","M0,-1L0.2245,-0.309L0.9511,-0.309L0.3633,0.118L0.5878,0.809L0,0.382L-0.5878,0.809L-0.3633,0.118L-0.9511,-0.309L-0.2245,-0.309Z","circle","M-2.8,0H2.8"]}, "legend": null}
     }},
    {"transform": [{"filter": "datum.p=='K' && (datum.s=='py' || datum.s=='sum')"}],
     "mark": {"type": "line", "strokeWidth": 1.3, "clip": true},
     "encoding": {
       "x": {"field": "z", "type": "quantitative", "axis": {"orient": "top", "values": [0,0.1,0.2,0.3,0.4,0.5,0.6,0.7,0.8,0.9,1], "labels": false, "title": null}},
       "y": {"field": "v", "type": "quantitative", "axis": {"orient": "right", "values": [0.001,0.01,0.1,1,10,100], "labels": false, "title": null}},
       "color": {"field": "s", "type": "nominal"},
       "strokeDash": {"field": "s", "type": "nominal", "scale": {"domain": ["py","reco","rem","sum"], "range": [[1,0],[1,0],[1,0],[6,3]]}, "legend": null}
     }},
    {"data": {"values": [{}]},
     "mark": {"type": "text", "text": "×10", "fontSize": 13, "fontWeight": "bold", "font": "Liberation Sans", "color": "#111"},
     "encoding": {"x": {"datum": 0.27, "axis": null}, "y": {"datum": 78, "axis": null}}}
  ]
},
{
  "width": 182, "height": 160,
  "resolve": {"axis": {"x": "independent", "y": "independent"}},
  "layer": [
    {"transform": [{"filter": "datum.p=='N' && (datum.s=='reco' || datum.s=='rem')"}],
     "mark": {"type": "point", "filled": true, "size": 36, "opacity": 1, "strokeWidth": 0, "clip": true},
     "encoding": {
       "x": {"field": "z", "type": "quantitative", "scale": {"domain": [0, 1], "nice": false}, "axis": {"orient": "bottom", "values": [0,0.1,0.2,0.3,0.4,0.5,0.6,0.7,0.8,0.9,1], "labels": false, "title": null}},
       "y": {"field": "v", "type": "quantitative", "scale": {"type": "log", "domain": [0.0001, 28], "nice": false}, "axis": {"orient": "left", "values": [0.0001,0.001,0.01,0.1,1,10], "labelOverlap": false, "labelExpr": "datum.value > 50 ? '10²' : datum.value > 5 ? '10¹' : datum.value > 0.5 ? '10⁰' : datum.value > 0.05 ? '10⁻¹' : datum.value > 0.005 ? '10⁻²' : datum.value > 0.0005 ? '10⁻³' : '10⁻⁴'", "title": "dN/dz"}},
       "color": {"field": "s", "type": "nominal", "scale": {"domain": ["py","reco","rem","sum"], "range": ["#ff1a1a","#33ee33","#7b0a0a","#1a1aff"]},
         "legend": {"orient": "none", "legendX": 68, "legendY": 3, "title": null, "padding": 0, "labelFontSize": 9, "labelOffset": 10, "rowPadding": -2, "symbolSize": 64,
           "labelExpr": "datum.value=='py' ? 'N+N̅ from PYTHIA' : datum.value=='reco' ? 'N from recombination' : datum.value=='rem' ? 'N from remnant fragm' : 'reco + rem fragment'",
           "encode": {"symbols": {"update": {
             "shape": {"signal": "datum.value=='reco' ? 'M0,-1L0.2245,-0.309L0.9511,-0.309L0.3633,0.118L0.5878,0.809L0,0.382L-0.5878,0.809L-0.3633,0.118L-0.9511,-0.309L-0.2245,-0.309Z' : datum.value=='rem' ? 'circle' : 'M-2.8,0H2.8'"},
             "fill": {"signal": "datum.value=='reco' ? '#33ee33' : datum.value=='rem' ? '#7b0a0a' : 'transparent'"},
             "stroke": {"signal": "datum.value=='py' ? '#ff1a1a' : datum.value=='sum' ? '#1a1aff' : 'transparent'"},
             "strokeDash": {"signal": "datum.value=='sum' ? [6,3] : [1,0]"},
             "strokeWidth": {"value": 1.5},
             "opacity": {"value": 1}}}}}},
       "shape": {"field": "s", "type": "nominal", "scale": {"domain": ["py","reco","rem","sum"], "range": ["M-2.8,0H2.8","M0,-1L0.2245,-0.309L0.9511,-0.309L0.3633,0.118L0.5878,0.809L0,0.382L-0.5878,0.809L-0.3633,0.118L-0.9511,-0.309L-0.2245,-0.309Z","circle","M-2.8,0H2.8"]}, "legend": null}
     }},
    {"transform": [{"filter": "datum.p=='N' && (datum.s=='py' || datum.s=='sum')"}],
     "mark": {"type": "line", "strokeWidth": 1.3, "clip": true},
     "encoding": {
       "x": {"field": "z", "type": "quantitative", "axis": {"orient": "bottom", "values": [0,0.2,0.4,0.6,0.8,1], "format": ".1f", "ticks": false, "labelPadding": 3, "labelOverlap": false, "title": "z"}},
       "y": {"field": "v", "type": "quantitative", "axis": {"orient": "right", "values": [0.0001,0.001,0.01,0.1,1,10], "labels": false, "title": null}},
       "color": {"field": "s", "type": "nominal"},
       "strokeDash": {"field": "s", "type": "nominal", "scale": {"domain": ["py","reco","rem","sum"], "range": [[1,0],[1,0],[1,0],[6,3]]}, "legend": null}
     }}
  ]
},
{
  "width": 182, "height": 160,
  "resolve": {"axis": {"x": "independent", "y": "independent"}},
  "layer": [
    {"transform": [{"filter": "datum.p=='L' && (datum.s=='reco' || datum.s=='rem')"}],
     "mark": {"type": "point", "filled": true, "size": 36, "opacity": 1, "strokeWidth": 0, "clip": true},
     "encoding": {
       "x": {"field": "z", "type": "quantitative", "scale": {"domain": [0, 1], "nice": false}, "axis": {"orient": "bottom", "values": [0,0.1,0.2,0.3,0.4,0.5,0.6,0.7,0.8,0.9,1], "labels": false, "title": null}},
       "y": {"field": "v", "type": "quantitative", "scale": {"type": "log", "domain": [0.0001, 28], "nice": false}, "axis": {"orient": "left", "values": [0.0001,0.001,0.01,0.1,1,10], "labels": false, "title": null}},
       "color": {"field": "s", "type": "nominal", "scale": {"domain": ["py","reco","rem","sum"], "range": ["#ff1a1a","#33ee33","#7b0a0a","#1a1aff"]},
         "legend": {"orient": "none", "legendX": 46.5, "legendY": 4, "title": null, "padding": 0, "labelFontSize": 9, "labelOffset": 8.2, "rowPadding": -1.3, "symbolSize": 64,
           "labelExpr": "datum.value=='py' ? 'Λ⁰+Λ̅⁰ from PYTHIA' : datum.value=='reco' ? 'Λ from recombination' : datum.value=='rem' ? 'Λ from remnant fragm' : 'reco + remn fragm'",
           "encode": {"symbols": {"update": {
             "shape": {"signal": "datum.value=='reco' ? 'M0,-1L0.2245,-0.309L0.9511,-0.309L0.3633,0.118L0.5878,0.809L0,0.382L-0.5878,0.809L-0.3633,0.118L-0.9511,-0.309L-0.2245,-0.309Z' : datum.value=='rem' ? 'circle' : 'M-2.8,0H2.8'"},
             "fill": {"signal": "datum.value=='reco' ? '#33ee33' : datum.value=='rem' ? '#7b0a0a' : 'transparent'"},
             "stroke": {"signal": "datum.value=='py' ? '#ff1a1a' : datum.value=='sum' ? '#1a1aff' : 'transparent'"},
             "strokeDash": {"signal": "datum.value=='sum' ? [6,3] : [1,0]"},
             "strokeWidth": {"value": 1.5},
             "opacity": {"value": 1}}}}}},
       "shape": {"field": "s", "type": "nominal", "scale": {"domain": ["py","reco","rem","sum"], "range": ["M-2.8,0H2.8","M0,-1L0.2245,-0.309L0.9511,-0.309L0.3633,0.118L0.5878,0.809L0,0.382L-0.5878,0.809L-0.3633,0.118L-0.9511,-0.309L-0.2245,-0.309Z","circle","M-2.8,0H2.8"]}, "legend": null}
     }},
    {"transform": [{"filter": "datum.p=='L' && (datum.s=='py' || datum.s=='sum')"}],
     "mark": {"type": "line", "strokeWidth": 1.3, "clip": true},
     "encoding": {
       "x": {"field": "z", "type": "quantitative", "axis": {"orient": "bottom", "values": [0.2,0.4,0.6,0.8,1], "format": ".1f", "ticks": false, "labelPadding": 3, "labelOverlap": false, "title": "z"}},
       "y": {"field": "v", "type": "quantitative", "axis": {"orient": "right", "values": [0.0001,0.001,0.01,0.1,1,10], "labels": false, "title": null}},
       "color": {"field": "s", "type": "nominal"},
       "strokeDash": {"field": "s", "type": "nominal", "scale": {"domain": ["py","reco","rem","sum"], "range": [[1,0],[1,0],[1,0],[6,3]]}, "legend": null}
     }}
  ]
}
]
}
